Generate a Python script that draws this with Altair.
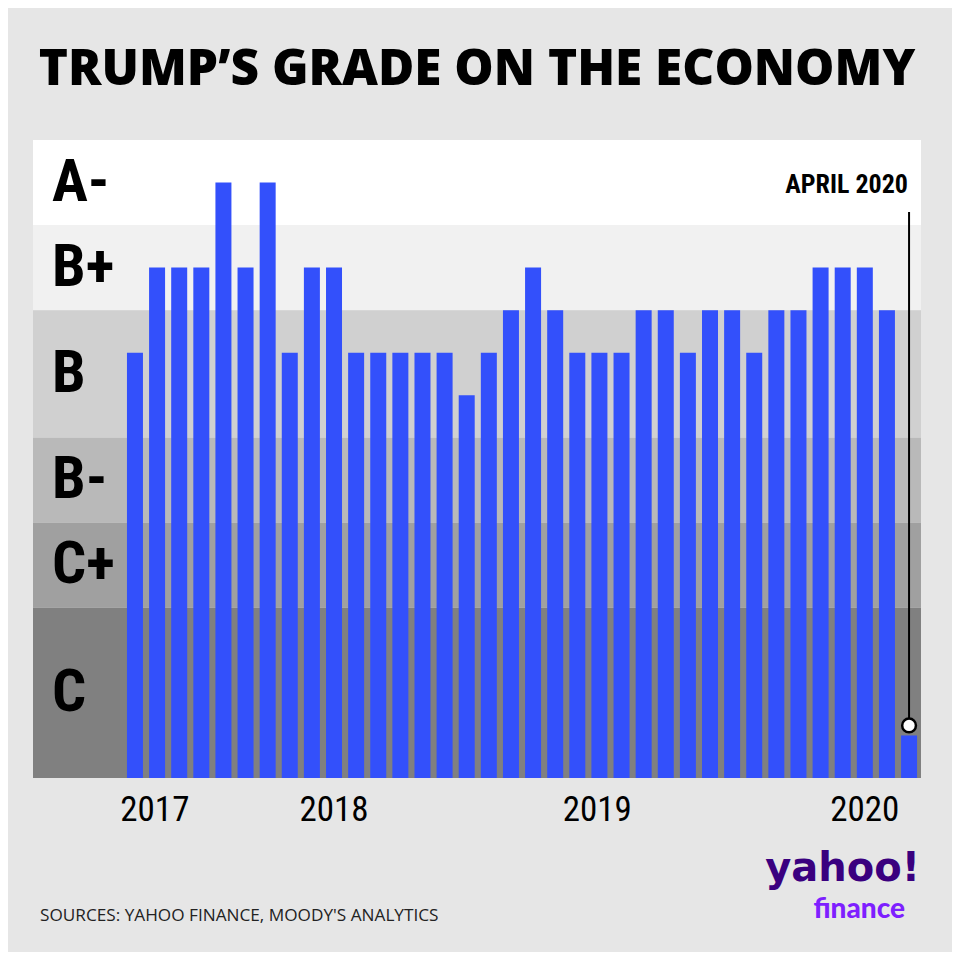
import altair as alt
import pandas as pd

# ---- data ----
grade_values = [10, 12, 12, 12, 14, 12, 14, 10, 12, 12, 10, 10, 10, 10, 10, 9, 10, 11,
                12, 11, 10, 10, 10, 11, 11, 10, 11, 11, 10, 11, 11, 12, 12, 12, 11, 1]
band_names = ["A-", "B+", "B", "B-", "C+", "C"]
band_lo = [13, 11, 8, 6, 4, 0]
band_hi = [15, 13, 11, 8, 6, 4]
band_colors = ["#ffffff", "#f1f1f1", "#d0d0d0", "#b9b9b9", "#a0a0a0", "#808080"]
year_labels = ["2017", "2018", "2019", "2020"]
year_ticks = [0.9, 9.0, 20.9, 33.0]

W, H = 888, 638
BAR = "#3350fb"
COND = "Liberation Sans Narrow, Roboto Condensed, DejaVu Sans Condensed, sans-serif"

bars_df = pd.DataFrame({"idx": list(range(len(grade_values))), "grade": grade_values})
bands_df = pd.DataFrame({"name": band_names, "lo": band_lo, "hi": band_hi, "color": band_colors})
bands_df["mid"] = (bands_df["lo"] + bands_df["hi"]) / 2
years_df = pd.DataFrame({"label": year_labels, "pos": year_ticks})
last_df = bars_df.tail(1).reset_index(drop=True)

xs = alt.Scale(domain=[-4.61, 35.54], nice=False, zero=False, padding=0)
ys = alt.Scale(domain=[0, 15], nice=False, padding=0)

def X(f):
    return alt.X(f, scale=xs, axis=None)

def Y(f):
    return alt.Y(f, scale=ys, axis=None)

bands = alt.Chart(bands_df).mark_rect().encode(
    x=alt.value(0), x2=alt.value(W),
    y=Y("lo:Q"), y2="hi:Q",
    color=alt.Color("color:N", scale=None, legend=None),
)

grade_text = alt.Chart(bands_df).mark_text(
    align="left", baseline="middle", font=COND, fontSize=60, fontWeight="bold", color="#000"
).encode(x=alt.value(19), y=Y("mid:Q"), text="name:N")

bars = alt.Chart(bars_df).mark_bar(width=16, color=BAR).encode(
    x=X("idx:Q"), y=Y("grade:Q"),
)

years = alt.Chart(years_df).mark_text(
    baseline="middle", font=COND, fontSize=35, color="#000"
).encode(x=X("pos:Q"), y=alt.value(H + 32), text="label:N")

rule = alt.Chart(last_df).mark_rule(color="#000", strokeWidth=2, yOffset=-12).encode(
    x=X("idx:Q"), y=Y("grade:Q"), y2=alt.value(72)
)
dot = alt.Chart(last_df).mark_point(
    shape="circle", size=190, filled=True, fill="#ffffff", stroke="#000", strokeWidth=2.5,
    opacity=1, yOffset=-10
).encode(x=X("idx:Q"), y=Y("grade:Q"))

def label(txt, x, y, **kw):
    return alt.Chart(pd.DataFrame({"t": [txt]})).mark_text(**kw).encode(
        x=alt.value(x), y=alt.value(y), text="t:N")

april = label("APRIL 2020", 875, 45, align="right", baseline="middle", font=COND,
              fontSize=26, fontWeight="bold", color="#000")
title = label("TRUMP\u2019S GRADE ON THE ECONOMY", 444, -70, align="center", baseline="middle",
              font="Open Sans", fontSize=49.5, fontWeight=800, color="#000")
source = label("SOURCES: YAHOO FINANCE, MOODY'S ANALYTICS", 7, 776, align="left",
               baseline="middle", font="Open Sans", fontSize=17.2, color="#222222")
yahoo = label("yahoo!", 887, 741, align="right", baseline="alphabetic", font="DejaVu Sans",
              fontSize=40, fontWeight="bold", color="#3a007f")
finance = label("finance", 872, 778, align="right", baseline="alphabetic", font="Lato",
                fontSize=28, fontWeight=900, color="#7e1fff")

chart = alt.layer(
    bands, grade_text, bars, years, rule, dot, april, title, source, yahoo, finance
).properties(
    width=W, height=H,
    autosize=alt.AutoSizeParams(type="none"),
    padding={"left": 25, "top": 132, "right": 31, "bottom": 174},
).configure(background="#e6e6e6").configure_view(stroke=None)

chart.save("out.html", embed_options={"renderer": "svg", "actions": False})
